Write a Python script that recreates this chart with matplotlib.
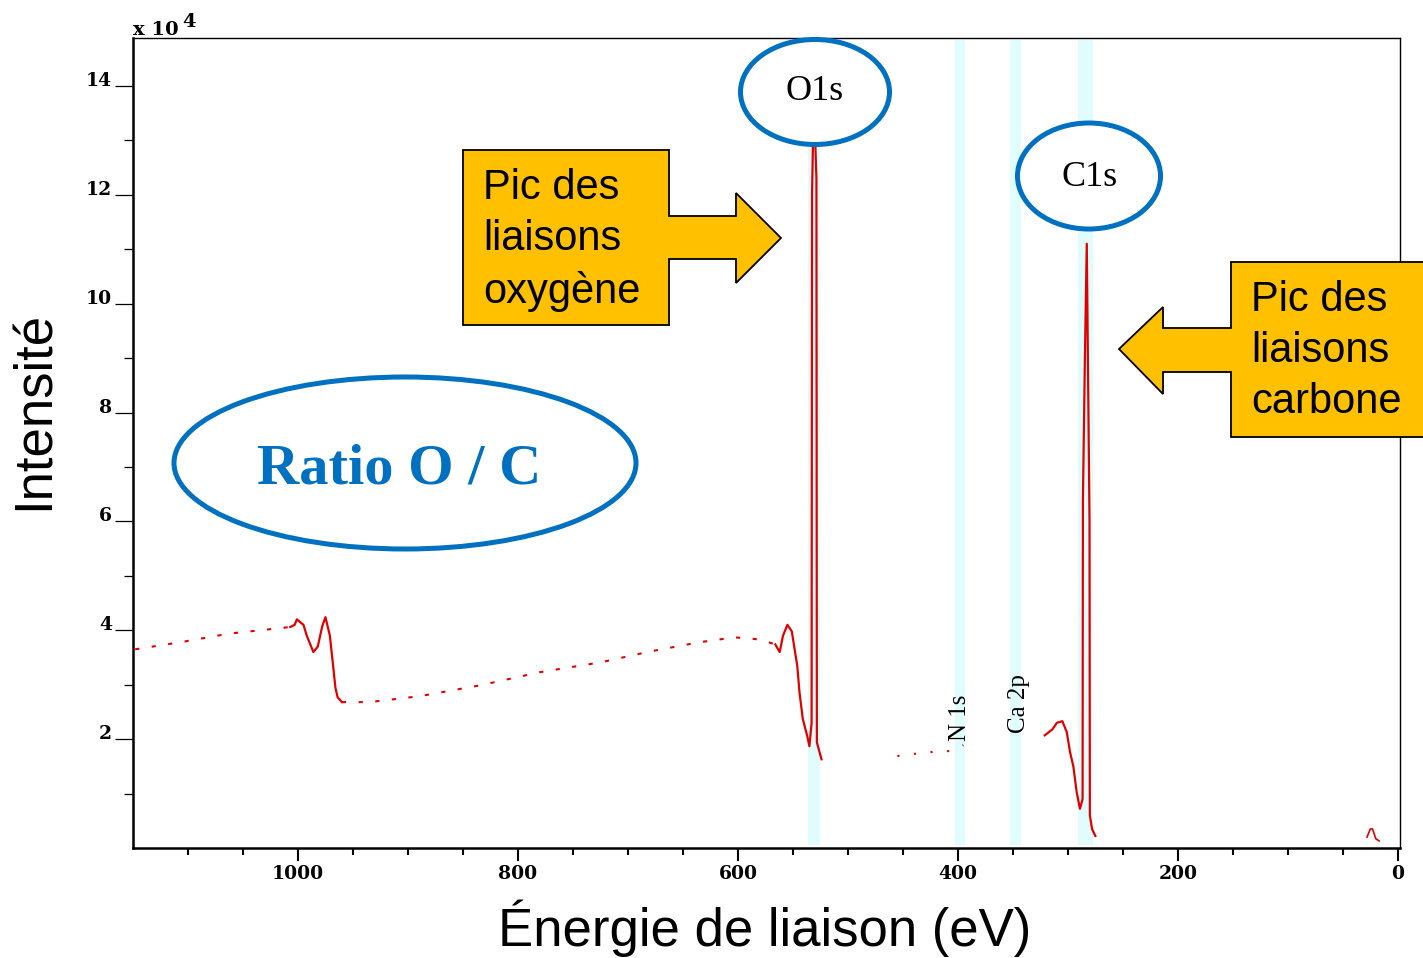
import matplotlib.pyplot as plt
import numpy as np
from matplotlib.patches import Ellipse, Polygon

W, H = 1423, 958

# spectre XPS : énergie de liaison (eV) et intensité (x 10^4 coups)
bg_hi_energy = [1148, 1107, 1062, 1025, 1007]
bg_hi_counts = [3.65, 3.78, 3.94, 4.02, 4.06]

okll_energy = [1007, 1003, 1001, 995, 992, 986, 982, 978, 975, 971, 968, 966, 964, 960]
okll_counts = [4.06, 4.1, 4.2, 4.1, 3.9, 3.6, 3.7, 4.07, 4.24, 3.9, 3.34, 2.95, 2.77, 2.68]

bg_mid_energy = [960, 935, 889, 834, 780, 725, 680, 635, 603, 580, 566]
bg_mid_counts = [2.68, 2.68, 2.79, 2.99, 3.23, 3.41, 3.61, 3.78, 3.87, 3.83, 3.74]

o1s_energy = [566, 562, 559, 555, 551, 546, 544, 541, 537, 535, 533, 532.6, 531, 528.6, 528.2, 524]
o1s_counts = [3.74, 3.6, 3.9, 4.1, 3.98, 3.34, 2.86, 2.37, 2.06, 1.87, 2.3, 12.0, 13.8, 12.3, 1.94, 1.63]

n1s_energy = [455, 444, 416, 407, 395]
n1s_counts = [1.69, 1.72, 1.78, 1.78, 1.89]

c1s_energy = [321, 314, 310, 305, 301, 298, 295, 292, 289, 286.6, 286.3, 284.5, 282.8, 280.3, 280, 278, 275]
c1s_counts = [2.07, 2.18, 2.3, 2.33, 2.13, 1.76, 1.5, 1.03, 0.72, 0.9, 6.4, 9.0, 11.1, 6.0, 0.6, 0.35, 0.22]

low_energy = [28, 25, 23, 20, 17]
low_counts = [0.2, 0.35, 0.35, 0.17, 0.13]

# bandes des pics identifiés
band_centers = [531, 398, 348, 284]
band_halfwidths = [5.5, 4.5, 5.0, 6.5]

red = '#E00000'
blue = '#0070C0'
orange = '#FFC000'
serif = 'Liberation Serif'
sans = 'Liberation Sans'


def px(x, y):
    return (x / W, 1 - y / H)


fig = plt.figure(figsize=(W / 100, H / 100), dpi=100)
ax = fig.add_axes([133 / W, 110 / H, (1400 - 133) / W, (848 - 38) / H])

for c, hw in zip(band_centers, band_halfwidths):
    ax.axvspan(c + hw, c - hw, ymin=0.004, ymax=0.997, color='#E0FCFC', lw=0, zorder=0)

sparse = dict(color=red, lw=1.5, linestyle=(0, (2, 6)))
solid = dict(color=red, lw=1.6)
ax.plot(bg_hi_energy, bg_hi_counts, **sparse)
ax.plot(okll_energy, okll_counts, **solid)
ax.plot(bg_mid_energy, bg_mid_counts, **sparse)
ax.plot(o1s_energy, o1s_counts, **solid)
ax.plot(n1s_energy, n1s_counts, color=red, lw=1.5, linestyle=(0, (1, 7)))
ax.plot(c1s_energy, c1s_counts, **solid)
ax.plot(low_energy, low_counts, color=red, lw=1.2)

ax.set_xlim(1150, -2)
ax.set_ylim(0, 14.88)

ax.set_xticks(np.arange(0, 1001, 200))
ax.set_xticks(np.arange(0, 1150, 50), minor=True)
ax.set_yticks(np.arange(2, 15, 2))
ax.set_yticks(np.arange(1, 15, 2), minor=True)
ax.tick_params(axis='x', which='major', length=9.5, width=1.5, pad=3)
ax.tick_params(axis='x', which='minor', length=5, width=1.5)
ax.tick_params(axis='y', which='major', length=13, width=0.9, pad=2)
ax.tick_params(axis='y', which='minor', length=6.5, width=0.9)
for lab in ax.get_xticklabels() + ax.get_yticklabels():
    lab.set_fontfamily('DejaVu Serif')
    lab.set_fontweight('bold')
    lab.set_fontsize(13.5)
for lab in ax.get_yticklabels():
    lab.set_verticalalignment('baseline')

for side in ['left', 'bottom']:
    ax.spines[side].set_linewidth(1.8)
for side in ['top', 'right']:
    ax.spines[side].set_linewidth(1.0)

# étiquettes des pics secondaires
ax.text(398, 2.4, 'N 1s', rotation=90, ha='center', va='center',
        family=serif, fontsize=18)
ax.text(344, 2.66, 'Ca 2p', rotation=90, ha='center', va='center',
        family=serif, fontsize=18)

# x 10^4
fig.text(*px(133, 35), 'x 10', family='DejaVu Serif', fontweight='bold',
         fontsize=14, ha='left', va='baseline')
fig.text(*px(182, 27), '4', family='DejaVu Serif', fontweight='bold',
         fontsize=14, ha='left', va='baseline')

fig.text(*px(35, 410), 'Intensité', rotation=90, family=sans, fontsize=38,
         ha='center', va='center')
fig.text(*px(765, 928), 'Énergie de liaison (eV)', family=sans, fontsize=38,
         ha='center', va='center')

# ellipses
for (cx, cy, w, h) in [(815, 92, 149, 105), (1089, 176, 143, 106), (405, 463, 462, 172)]:
    e = Ellipse(px(cx, cy), w / W, h / H, transform=fig.transFigure,
                facecolor='white', edgecolor=blue, lw=3.6, zorder=5)
    fig.add_artist(e)
fig.text(*px(815, 92), 'O1s', family=serif, fontsize=26, ha='center', va='center', zorder=6)
fig.text(*px(1090, 177), 'C1s', family=serif, fontsize=26, ha='center', va='center', zorder=6)
fig.text(*px(399, 469), 'Ratio O / C', family=serif, fontweight='bold', fontsize=42,
         color=blue, ha='center', va='center', zorder=6)

# flèches-légendes
oxy = [(463, 150), (669, 150), (669, 216), (736, 216), (736, 193), (781, 238),
       (736, 283), (736, 259), (669, 259), (669, 325), (463, 325)]
carb = [(1440, 262), (1231, 262), (1231, 328), (1163, 328), (1163, 307), (1119, 349),
        (1163, 394), (1163, 372), (1231, 372), (1231, 437), (1440, 437)]
for pts in [oxy, carb]:
    poly = Polygon([px(x, y) for x, y in pts], closed=True, transform=fig.transFigure,
                   facecolor=orange, edgecolor='black', lw=1.3, zorder=5)
    fig.add_artist(poly)
fig.text(*px(483, 240), 'Pic des\nliaisons\noxygène', family=sans, fontsize=30,
         ha='left', va='center', linespacing=1.36, zorder=6)
fig.text(*px(1251, 351), 'Pic des\nliaisons\ncarbone', family=sans, fontsize=30,
         ha='left', va='center', linespacing=1.36, zorder=6)

fig.savefig('out.png', dpi=100)
